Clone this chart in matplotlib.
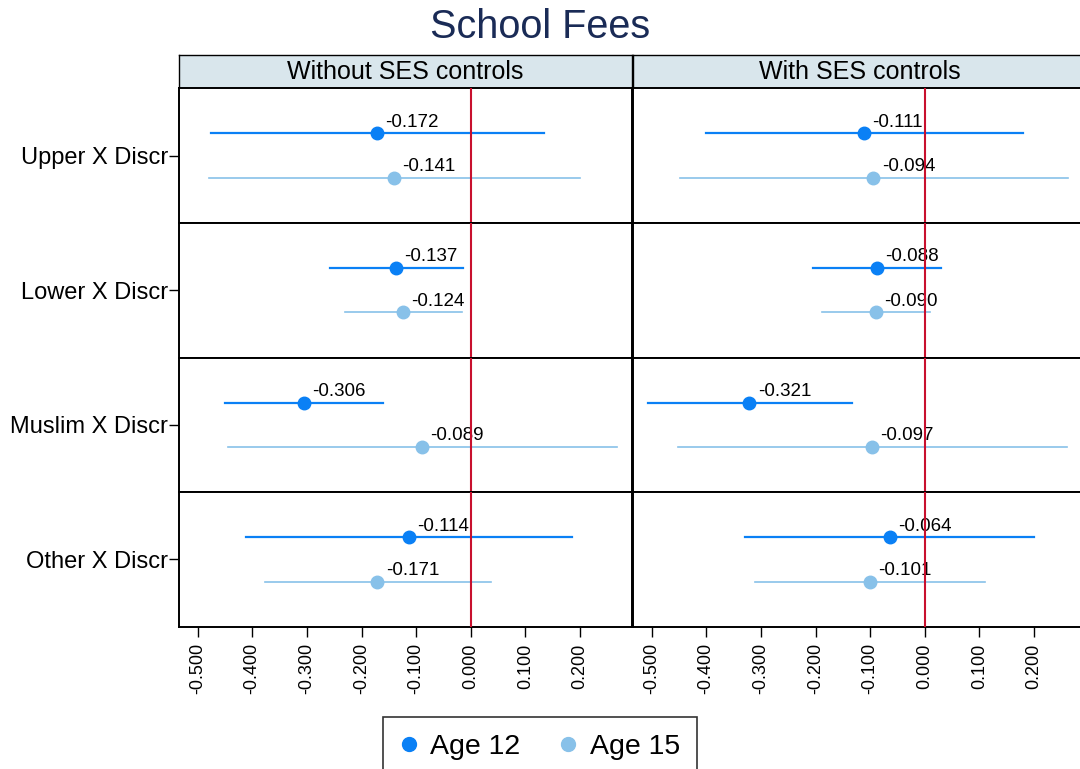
import matplotlib
matplotlib.use('Agg')
from matplotlib import pyplot as plt
from matplotlib.lines import Line2D

plt.rc('font', family='Liberation Sans')

rows = ['Upper X Discr', 'Lower X Discr', 'Muslim X Discr', 'Other X Discr']
panels = ['Without SES controls', 'With SES controls']

# without SES controls
est12_wo = [-0.172, -0.137, -0.306, -0.114]
lo12_wo = [-0.475, -0.257, -0.450, -0.411]
hi12_wo = [0.134, -0.015, -0.160, 0.185]
est15_wo = [-0.141, -0.124, -0.089, -0.171]
lo15_wo = [-0.480, -0.230, -0.445, -0.376]
hi15_wo = [0.200, -0.016, 0.268, 0.037]

# with SES controls
est12_w = [-0.111, -0.088, -0.321, -0.064]
lo12_w = [-0.401, -0.205, -0.506, -0.329]
hi12_w = [0.180, 0.030, -0.133, 0.200]
est15_w = [-0.094, -0.090, -0.097, -0.101]
lo15_w = [-0.448, -0.189, -0.452, -0.311]
hi15_w = [0.262, 0.010, 0.260, 0.110]

xticks = [-0.5, -0.4, -0.3, -0.2, -0.1, 0.0, 0.1, 0.2]

c12 = '#0a80f5'
c15 = '#88c1e9'
cred = '#c8102e'

W, H = 1080, 769
fig = plt.figure(figsize=(W / 100, H / 100), dpi=100)

fig.text(0.5, 1 - 27 / H, 'School Fees', ha='center', va='center',
         fontsize=28.5, color='#1a2b56')

col_x = [179, 633]
col_w = 453
top = 88.3
row_h = 134.6

data = [
    (est12_wo, lo12_wo, hi12_wo, est15_wo, lo15_wo, hi15_wo),
    (est12_w, lo12_w, hi12_w, est15_w, lo15_w, hi15_w),
]

for c in range(2):
    # header strip
    hx = fig.add_axes([col_x[c] / W, 1 - 87.5 / H, col_w / W, 32.5 / H])
    hx.set_facecolor('#d9e6ec')
    hx.set_xticks([])
    hx.set_yticks([])
    for s in hx.spines.values():
        s.set_linewidth(1.0)
    hx.text(0.5, 0.47, panels[c], ha='center', va='center', fontsize=18,
            transform=hx.transAxes)

    e12, l12, h12, e15, l15, h15 = data[c]
    for r in range(4):
        y0 = top + r * row_h
        ax = fig.add_axes([col_x[c] / W, 1 - (y0 + row_h) / H, col_w / W, row_h / H])
        ax.set_xlim(-0.534, 0.295)
        ax.set_ylim(0, 1)
        for s in ax.spines.values():
            s.set_linewidth(1.4)

        ax.plot([l12[r], h12[r]], [0.665, 0.665], color=c12, lw=1.6, zorder=2)
        ax.plot([l15[r], h15[r]], [0.335, 0.335], color=c15, lw=1.2, zorder=2)
        ax.plot(e12[r], 0.665, 'o', color=c12, ms=9, zorder=3)
        ax.plot(e15[r], 0.335, 'o', color=c15, ms=9, zorder=3)
        ax.annotate('%.3f' % e12[r], (e12[r], 0.665), xytext=(6, 8),
                    textcoords='offset points', ha='left', va='center',
                    fontsize=13.5, zorder=3)
        ax.annotate('%.3f' % e15[r], (e15[r], 0.335), xytext=(6, 8),
                    textcoords='offset points', ha='left', va='center',
                    fontsize=13.5, zorder=3)
        ax.axvline(0, color=cred, lw=1.5, zorder=5)

        if c == 0:
            ax.set_yticks([0.5])
            ax.set_yticklabels([rows[r]], fontsize=17)
            ax.tick_params(axis='y', length=7, width=1, pad=1)
        else:
            ax.set_yticks([])

        if r == 3:
            ax.set_xticks(xticks)
            ax.set_xticklabels(['%.3f' % v for v in xticks], rotation=90, fontsize=13)
            ax.tick_params(axis='x', length=7, width=1, pad=5)
        else:
            ax.set_xticks([])

handles = [Line2D([], [], marker='o', ls='', color=c12, ms=10),
           Line2D([], [], marker='o', ls='', color=c15, ms=10)]
leg = fig.legend(handles, ['Age 12', 'Age 15'], loc='upper center',
                 bbox_to_anchor=(0.5, 1 - 717 / H), ncol=2, fontsize=20.5,
                 frameon=True, fancybox=False, edgecolor='black',
                 borderaxespad=0, borderpad=0.6, handlelength=0.6,
                 handletextpad=0.45, columnspacing=1.4)
leg.get_frame().set_linewidth(1.2)

fig.savefig('out.png', dpi=100)
